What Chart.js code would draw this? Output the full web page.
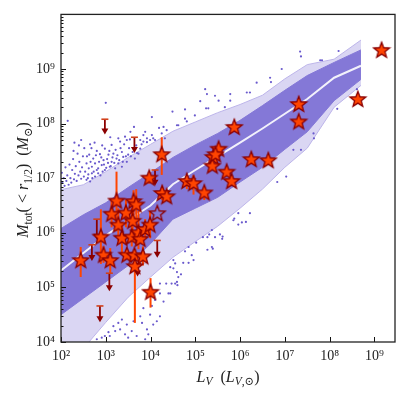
<!DOCTYPE html>
<html>
<head>
<meta charset="utf-8">
<script src="https://cdn.jsdelivr.net/npm/chart.js@4.4.1/dist/chart.umd.min.js"></script>
<style>
  body { margin: 0; background: #fff; }
  #wrap { width: 406px; height: 396px; }
</style>
</head>
<body>
<div id="wrap"><canvas id="massLum" width="406" height="396"></canvas></div>
<script>
// all values are log10
// simulated satellites: percentile bands vs L_V
var bandL   = [2.0, 2.5, 3.0, 3.5, 4.0, 4.5, 5.0, 5.5, 6.0, 6.5, 7.0, 7.5, 8.1, 8.7];
var outerHi = [6.79, 6.88, 7.12, 7.38, 7.62, 7.86, 8.03, 8.20, 8.35, 8.52, 8.82, 9.08, 9.18, 9.53];
var innerHi = [6.08, 6.33, 6.55, 6.83, 7.10, 7.38, 7.61, 7.82, 8.06, 8.33, 8.61, 8.88, 9.12, 9.35];
var median  = [5.31, 5.63, 5.95, 6.23, 6.50, 6.89, 7.15, 7.40, 7.65, 7.91, 8.18, 8.45, 8.84, 9.06];
var innerLo = [4.50, 4.80, 5.10, 5.40, 5.80, 6.25, 6.45, 6.65, 6.93, 7.20, 7.53, 7.85, 8.42, 8.81];
var outerLo = [3.40, 3.88, 4.36, 4.82, 5.19, 5.55, 5.84, 6.12, 6.45, 6.80, 7.20, 7.55, 8.30, 8.70];

// simulated satellites outside the 2-sigma band [logL, logM]
var dotsLog = [
  [2.02,7.10],[2.03,6.92],[2.06,7.00],[2.08,6.86],[2.10,7.20],[2.12,6.95],[2.14,7.05],[2.15,8.05],
  [2.17,6.88],[2.19,7.25],[2.21,7.00],[2.23,6.92],[2.25,7.15],[2.27,7.35],[2.29,6.98],[2.31,7.08],
  [2.33,7.22],[2.35,6.95],[2.37,7.45],[2.39,7.05],[2.41,7.30],[2.43,7.12],[2.45,6.99],[2.47,7.20],
  [2.49,7.40],[2.51,7.03],[2.52,7.55],[2.40,7.60],[2.28,7.50],[2.45,7.70],[2.30,7.65],
  [3.00,8.38],[3.63,7.94],[4.03,8.12],[4.19,7.92],[4.29,7.94],[4.49,8.22],[2.65,7.62],[2.80,7.50],
  [2.98,7.54],[3.13,7.61],[3.28,7.73],[3.32,7.67],[3.43,7.76],[3.47,7.70],[3.54,7.71],[3.77,7.70],
  [3.84,7.79],[3.92,7.73],[4.03,7.79],[4.10,7.70],[4.25,7.82],[4.32,7.73],[2.63,7.43],[2.72,7.36],
  [2.87,7.44],[2.95,7.33],[3.06,7.43],[3.17,7.45],[3.24,7.36],[3.36,7.48],[3.39,7.39],[3.50,7.43],
  [3.65,7.36],[3.73,7.45],[3.77,7.54],[2.57,7.27],[2.69,7.21],[2.76,7.27],[2.83,7.18],[2.91,7.24],
  [2.98,7.15],[3.09,7.21],[3.13,7.30],[3.21,7.18],[3.28,7.27],[3.36,7.21],[3.47,7.30],[2.54,7.12],
  [2.61,7.07],[2.69,7.09],[2.76,7.03],[2.83,7.09],[2.57,6.97],[2.65,6.94],
  [2.60,7.00],[2.62,7.18],[2.66,7.30],[2.70,7.00],[2.73,7.12],[2.78,7.42],[2.80,7.15],[2.85,7.30],
  [2.88,7.05],[2.90,7.38],[2.93,7.12],[2.96,7.25],[3.01,7.19],[3.03,7.35],[3.05,7.28],[3.08,7.50],
  [3.11,7.22],[3.15,7.38],[3.19,7.28],[3.22,7.52],[3.26,7.42],[3.30,7.33],[3.33,7.55],[3.38,7.30],
  [3.41,7.62],[3.45,7.40],[3.52,7.55],[3.56,7.40],[3.60,7.48],[3.68,7.60],[3.70,7.46],[3.80,7.62],
  [3.88,7.85],[2.58,7.40],[2.68,7.55],[2.75,7.65],[2.92,7.60],[3.10,7.75],[3.55,7.85],
  [5.22,8.63],[5.26,8.54],[5.11,8.41],[5.44,8.51],[5.52,8.42],[5.78,8.54],[5.78,8.42],[5.66,8.30],
  [6.15,8.57],[6.22,8.57],[5.24,8.28],[5.29,8.28],[4.99,8.15],[4.77,8.26],[4.77,8.09],[4.81,8.04],
  [4.62,7.97],[4.59,7.97],[4.36,7.88],[3.84,7.67],[3.99,7.70],[4.06,7.73],[3.92,7.66],
  [6.93,9.00],[6.67,8.84],[6.69,8.76],[6.37,8.75],[7.34,9.32],[7.36,9.23],[7.79,9.16],[7.83,9.16],
  [8.20,9.33],
  [8.61,8.63],[8.17,8.27],[7.64,7.82],[7.65,7.73],[7.03,7.03],[6.83,6.93],[7.19,7.52],[7.36,7.52],
  [5.96,6.36],[6.22,6.36],[5.87,6.26],[5.85,6.23],[6.04,6.19],[6.13,6.20],[5.96,6.15],[5.37,6.05],
  [5.31,5.97],[5.55,5.97],[5.61,5.93],[5.60,5.89],[5.44,5.92],[5.27,5.92],[5.17,5.92],[5.37,5.74],
  [5.39,5.71],[5.27,5.69],[5.02,5.82],[4.85,5.74],[4.77,5.66],[4.92,5.59],[4.96,5.50],[4.51,5.50],
  [4.55,5.44],[4.73,5.45],[4.85,5.45],[4.51,5.35],[4.59,5.28],[4.68,5.24],[4.47,5.07],[4.59,5.10],
  [4.60,5.04],[4.44,4.89],
  [4.44,5.37],[4.35,5.07],[4.40,4.89],[4.21,4.89],[4.10,4.77],[3.99,4.50],[4.29,4.74],[3.84,4.62],
  [3.77,4.47],[3.81,4.35],[3.62,4.38],[3.47,4.32],[3.36,4.41],[3.28,4.35],[3.32,4.23],[3.17,4.29],
  [3.21,4.20],[3.06,4.18],[2.98,4.11],[3.09,4.11],[2.91,4.08],[2.80,4.05],[3.43,4.14],[3.58,4.20],
  [3.69,4.11],[3.92,4.23],[4.06,4.32],[3.88,4.05],[3.50,4.08],[4.62,5.19],[3.95,4.14],[4.14,4.38],
  [4.21,5.07],[4.55,5.07],[4.21,4.47],[4.03,4.66]
];

// observed dwarfs: log L_V, log M_tot and error range (null = no bar)
var starL  = [2.44, 2.89, 2.95, 3.10, 3.24, 3.13, 3.28, 3.36, 3.45, 3.47, 3.60, 3.62, 3.68, 3.58,
              3.64, 3.65, 3.73, 3.77, 3.83, 3.88, 3.99, 4.00, 3.97, 4.25, 4.26, 4.36, 4.81, 4.96,
              5.20, 5.52, 5.40, 5.38, 5.45, 5.70, 5.81, 5.87, 6.25, 6.63, 7.31, 7.31, 8.63, 9.16];
var starM  = [5.50, 5.93, 5.60, 5.50, 6.59, 6.35, 6.15, 5.91, 6.37, 5.60, 6.22, 6.58, 6.52, 5.93,
              5.59, 5.39, 6.01, 5.89, 5.57, 6.07, 6.15, 4.92, 7.01, 7.44, 6.73, 6.67, 6.95, 6.91,
              6.74, 7.54, 7.39, 7.23, 7.44, 7.12, 6.95, 7.94, 7.35, 7.33, 8.36, 8.04, 8.45, 9.35];
var errLo  = [5.19, 5.43, 5.45, 5.25, 6.03, 6.10, 5.85, 5.60, 6.10, null, 5.90, 6.25, 6.20, 5.75,
              null, 4.35, 5.70, null, 5.40, 5.90, 5.90, 4.63, 6.90, 7.06, 6.60, null, 6.80, 6.70,
              6.60, null, null, null, null, null, null, null, null, null, null, null, null, null];
var errHi  = [5.74, 6.43, 5.75, 5.72, 7.12, 6.60, 6.45, 6.20, 6.60, null, 6.45, 6.78, 6.80, 6.45,
              null, 5.70, 6.40, null, 5.75, 6.25, 6.40, 5.17, 7.10, 7.75, 6.85, null, 7.05, 7.05,
              6.82, null, null, null, null, null, null, null, null, null, null, null, null, null];
var hollowL = [4.15];
var hollowM = [6.36];

// upper limits: log L_V, top of limit, arrow tip
var limL   = [2.98, 3.64, 2.80, 2.69, 3.08, 2.87, 4.10, 4.15, 3.71];
var limTop = [8.08, 7.75, 6.25, 5.78, 5.26, 4.66, 7.15, 5.86, 5.44];
var limTip = [7.82, 7.48, 5.89, 5.50, 4.95, 4.38, 6.88, 5.56, 5.22];

var xTicks = [2, 3, 4, 5, 6, 7, 8, 9];
var yTicks = [4, 5, 6, 7, 8, 9];

function pow10(v) { return Math.pow(10, v); }
function pts(xs, ys) {
  return xs.map(function (x, i) { return { x: pow10(x), y: pow10(ys[i]) }; });
}
var supDigits = { '0': '\u2070', '1': '\u00b9', '2': '\u00b2', '3': '\u00b3', '4': '\u2074',
                  '5': '\u2075', '6': '\u2076', '7': '\u2077', '8': '\u2078', '9': '\u2079' };
function tenTo(v) {
  var e = String(Math.round(Math.log10(v)));
  return '10' + e.split('').map(function (c) { return supDigits[c]; }).join('');
}

var SERIF = '"Liberation Serif", "DejaVu Serif", serif';

function starImage(fill, stroke) {
  var c = document.createElement('canvas');
  c.width = 20; c.height = 20;
  var g = c.getContext('2d');
  g.beginPath();
  for (var i = 0; i < 10; i++) {
    var r = i % 2 === 0 ? 8.3 : 3.5;
    var a = -Math.PI / 2 + i * Math.PI / 5;
    var xx = 10 + r * Math.cos(a), yy = 10.6 + r * Math.sin(a);
    if (i === 0) g.moveTo(xx, yy); else g.lineTo(xx, yy);
  }
  g.closePath();
  if (fill) { g.fillStyle = fill; g.fill(); }
  g.lineWidth = 1.3;
  g.strokeStyle = stroke;
  g.stroke();
  return c;
}

// error bars and upper limits, drawn just under the stars
var barsPlugin = {
  id: 'bars',
  beforeDatasetDraw: function (chart, args) {
    if (chart.data.datasets[args.index].label !== 'stars') return;
    var ctx = chart.ctx, xs = chart.scales.x, ys = chart.scales.y;
    ctx.save();
    ctx.strokeStyle = '#ff4500';
    ctx.lineWidth = 2;
    for (var i = 0; i < starL.length; i++) {
      if (errLo[i] === null) continue;
      var x = xs.getPixelForValue(pow10(starL[i]));
      ctx.beginPath();
      ctx.moveTo(x, ys.getPixelForValue(pow10(errLo[i])));
      ctx.lineTo(x, ys.getPixelForValue(pow10(errHi[i])));
      ctx.stroke();
    }
    for (var j = 0; j < limL.length; j++) {
      var lx = xs.getPixelForValue(pow10(limL[j]));
      var y0 = ys.getPixelForValue(pow10(limTop[j]));
      var y1 = ys.getPixelForValue(pow10(limTip[j]));
      ctx.strokeStyle = '#8b0000';
      ctx.lineWidth = 1.8;
      ctx.beginPath();
      ctx.moveTo(lx, y0);
      ctx.lineTo(lx, y1 - 4);
      ctx.stroke();
      ctx.strokeStyle = '#d2401a';
      ctx.lineWidth = 1.6;
      ctx.beginPath();
      ctx.moveTo(lx - 3.5, y0);
      ctx.lineTo(lx + 3.5, y0);
      ctx.stroke();
      ctx.fillStyle = '#8b0000';
      ctx.beginPath();
      ctx.moveTo(lx - 3.5, y1 - 5);
      ctx.lineTo(lx + 3.5, y1 - 5);
      ctx.lineTo(lx, y1 + 1);
      ctx.closePath();
      ctx.fill();
    }
    ctx.restore();
  }
};

function richWidth(ctx, segs) {
  var w = 0;
  segs.forEach(function (s) {
    ctx.font = (s.it ? 'italic ' : '') + (s.sub ? '11.5px ' : '16px ') + SERIF;
    s.w = ctx.measureText(s.t).width;
    w += s.w;
  });
  return w;
}
function richDraw(ctx, segs, cx, y) {
  var x = cx - richWidth(ctx, segs) / 2;
  segs.forEach(function (s) {
    ctx.font = (s.it ? 'italic ' : '') + (s.sub ? '11.5px ' : '16px ') + SERIF;
    ctx.fillText(s.t, x, y + (s.sub ? 3.5 : 0));
    x += s.w;
  });
}

// frame, inward ticks and axis titles
var framePlugin = {
  id: 'frame',
  afterDraw: function (chart) {
    var ctx = chart.ctx, a = chart.chartArea, xs = chart.scales.x, ys = chart.scales.y;
    ctx.save();
    ctx.strokeStyle = '#111';
    ctx.lineWidth = 1;
    ctx.beginPath();
    xTicks.forEach(function (e) {
      var x = Math.round(xs.getPixelForValue(pow10(e))) + 0.5;
      ctx.moveTo(x, a.bottom); ctx.lineTo(x, a.bottom - 5);
    });
    for (var e = 4; e < 10; e++) {
      for (var k = 1; k < 10; k++) {
        var y = Math.round(ys.getPixelForValue(k * pow10(e))) + 0.5;
        var len = k === 1 ? 5 : 2.5;
        ctx.moveTo(a.left, y); ctx.lineTo(a.left + len, y);
      }
    }
    ctx.stroke();
    ctx.lineWidth = 1.3;
    ctx.strokeStyle = '#222';
    ctx.strokeRect(a.left, a.top, a.right - a.left, a.bottom - a.top);

    ctx.fillStyle = '#222';
    ctx.textBaseline = 'alphabetic';
    richDraw(ctx, [
      { t: 'L', it: 1 }, { t: 'V', it: 1, sub: 1 }, { t: '  (' },
      { t: 'L', it: 1 }, { t: 'V', it: 1, sub: 1 }, { t: ',\u2299', sub: 1 }, { t: ')' }
    ], (a.left + a.right) / 2, 381.5);

    ctx.translate(28, 180);
    ctx.rotate(-Math.PI / 2);
    richDraw(ctx, [
      { t: 'M', it: 1 }, { t: 'tot', sub: 1 }, { t: '(' }, { t: ' < ' }, { t: 'r', it: 1 },
      { t: '1/2', sub: 1 }, { t: ')  (' }, { t: 'M', it: 1 }, { t: '\u2299', sub: 1 }, { t: ')' }
    ], 0, 0);
    ctx.restore();
  }
};

var ctx = document.getElementById('massLum');
var chart = new Chart(ctx, {
  type: 'scatter',
  data: {
    datasets: [
      { label: 'outerHi', data: pts(bandL, outerHi), showLine: true, fill: '+1',
        backgroundColor: '#dad6f3', borderColor: '#bdb5ea', borderWidth: 1, pointRadius: 0, order: 10 },
      { label: 'outerLo', data: pts(bandL, outerLo), showLine: true,
        borderColor: '#bdb5ea', borderWidth: 1, pointRadius: 0, order: 9 },
      { label: 'sims', data: dotsLog.map(function (d) { return { x: pow10(d[0]), y: pow10(d[1]) }; }),
        backgroundColor: '#6a5acd', borderWidth: 0, pointRadius: 1.1, order: 8 },
      { label: 'innerHi', data: pts(bandL, innerHi), showLine: true, fill: '+1',
        backgroundColor: '#8478d7', borderColor: '#8478d7', borderWidth: 1, pointRadius: 0, order: 7 },
      { label: 'innerLo', data: pts(bandL, innerLo), showLine: true,
        borderColor: '#8478d7', borderWidth: 1, pointRadius: 0, order: 6 },
      { label: 'median', data: pts(bandL, median), showLine: true,
        borderColor: '#f2f1fb', borderWidth: 2, pointRadius: 0, order: 5 },
      { label: 'stars', data: pts(starL, starM), pointStyle: starImage('#ff4500', '#8b0000'),
        pointRadius: 8, order: 2 },
      { label: 'hollow', data: pts(hollowL, hollowM), pointStyle: starImage(null, '#8b0000'),
        pointRadius: 8, order: 1 }
    ]
  },
  options: {
    responsive: false,
    animation: false,
    layout: { padding: { left: 0, right: 11, top: 11, bottom: 0 } },
    plugins: { legend: { display: false }, tooltip: { enabled: false } },
    scales: {
      x: {
        type: 'logarithmic', min: 100, max: pow10(9.46),
        grid: { display: false, drawTicks: false }, border: { display: false },
        afterBuildTicks: function (s) { s.ticks = xTicks.map(function (e) { return { value: pow10(e) }; }); },
        afterFit: function (s) { s.height = 54; },
        ticks: { callback: tenTo, autoSkip: false, maxRotation: 0, padding: 6,
                 color: '#222', font: { family: SERIF, size: 14 } }
      },
      y: {
        type: 'logarithmic', min: 1e4, max: 1e10,
        grid: { display: false, drawTicks: false }, border: { display: false },
        afterBuildTicks: function (s) { s.ticks = yTicks.map(function (e) { return { value: pow10(e) }; }); },
        afterFit: function (s) { s.width = 61; },
        ticks: { callback: tenTo, autoSkip: false, padding: 6,
                 color: '#222', font: { family: SERIF, size: 14 } }
      }
    }
  },
  plugins: [barsPlugin, framePlugin]
});
</script>
</body>
</html>
